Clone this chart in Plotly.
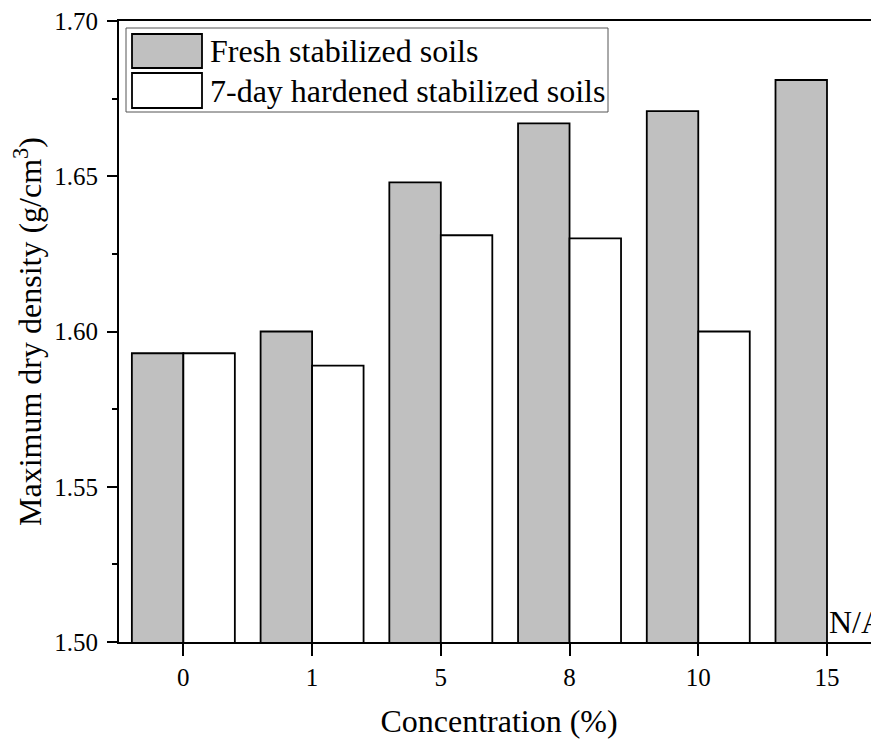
import plotly.graph_objects as go

categories = ["0", "1", "5", "8", "10", "15"]
fresh = [1.593, 1.600, 1.648, 1.667, 1.671, 1.681]
hardened = [1.593, 1.589, 1.631, 1.630, 1.600, None]
series_names = ["Fresh stabilized soils", "7-day hardened stabilized soils"]
y_ticks = [1.50, 1.55, 1.60, 1.65, 1.70]

# page body has an 8px margin; figure is sized so its content lands where the reference has it
OFF = 8
W, H = 879 - OFF, 742 - OFF
ML, MR, MT, MB = 119 - OFF, 0, 21 - OFF, 100
PW, PH = W - ML - MR, H - MT - MB

FONT = "Liberation Serif, Times New Roman, serif"
GRAY = "#c0c0c0"


def px(x):
    return (x - OFF - ML) / PW


def py(y):
    return (H - MB - (y - OFF)) / PH


fig = go.Figure()
fig.add_trace(go.Bar(x=categories, y=fresh, name=series_names[0],
                     marker=dict(color=GRAY, line=dict(color="black", width=1.8)),
                     showlegend=False))
fig.add_trace(go.Bar(x=categories, y=hardened, name=series_names[1],
                     marker=dict(color="white", line=dict(color="black", width=1.8)),
                     showlegend=False))

shapes = []
annotations = []
# custom legend box
shapes.append(dict(type="rect", xref="paper", yref="paper",
                   x0=px(126), x1=px(608), y0=py(112), y1=py(28),
                   line=dict(color="#555555", width=1), fillcolor="white", layer="above"))
legend_rows = [(34, 68, GRAY), (73, 108, "white")]
for (top, bot, col), name in zip(legend_rows, series_names):
    shapes.append(dict(type="rect", xref="paper", yref="paper",
                       x0=px(132), x1=px(202), y0=py(bot), y1=py(top),
                       line=dict(color="black", width=1.8), fillcolor=col, layer="above"))
    annotations.append(dict(xref="paper", yref="paper", x=px(208), y=py((top + bot) / 2),
                            xanchor="left", yanchor="middle", showarrow=False,
                            text=name, font=dict(family=FONT, size=32, color="black")))

annotations.append(dict(xref="x", yref="y", x=categories.index("15"), y=1.50,
                        xanchor="left", yanchor="bottom",
                        xshift=0, yshift=0, showarrow=False, text="N/A",
                        font=dict(family=FONT, size=32, color="black")))

fig.update_layout(
    width=W, height=H,
    margin=dict(l=ML, r=MR, t=MT, b=MB, pad=0),
    plot_bgcolor="white", paper_bgcolor="white",
    barmode="group", bargap=0.2, bargroupgap=0,
    font=dict(family=FONT, color="black"),
    shapes=shapes, annotations=annotations,
    xaxis=dict(
        type="category", range=[-0.5, 5.404], automargin=False,
        showline=True, linecolor="black", linewidth=2, mirror=True,
        ticks="outside", ticklen=12, tickwidth=2, tickcolor="black",
        minor=dict(ticks="outside", ticklen=5, tickwidth=2, tickcolor="black", showgrid=False),
        showgrid=False, zeroline=False,
        tickfont=dict(family=FONT, size=25),
        title=dict(text="Concentration (%)", font=dict(family=FONT, size=32), standoff=20),
    ),
    yaxis=dict(
        range=[1.5, 1.7], tickvals=y_ticks, tickformat=".2f", automargin=False,
        showline=True, linecolor="black", linewidth=2, mirror=False,
        ticks="outside", ticklen=10, tickwidth=2, tickcolor="black",
        ticklabelstandoff=4, ticklabeloverflow="allow",
        minor=dict(dtick=0.025, ticks="outside", ticklen=5, tickwidth=2, tickcolor="black", showgrid=False),
        showgrid=False, zeroline=False,
        tickfont=dict(family=FONT, size=25),
        title=dict(text="Maximum dry density (g/cm<sup>3</sup>)", font=dict(family=FONT, size=32), standoff=6),
    ),
)

fig.write_html("out.html")
